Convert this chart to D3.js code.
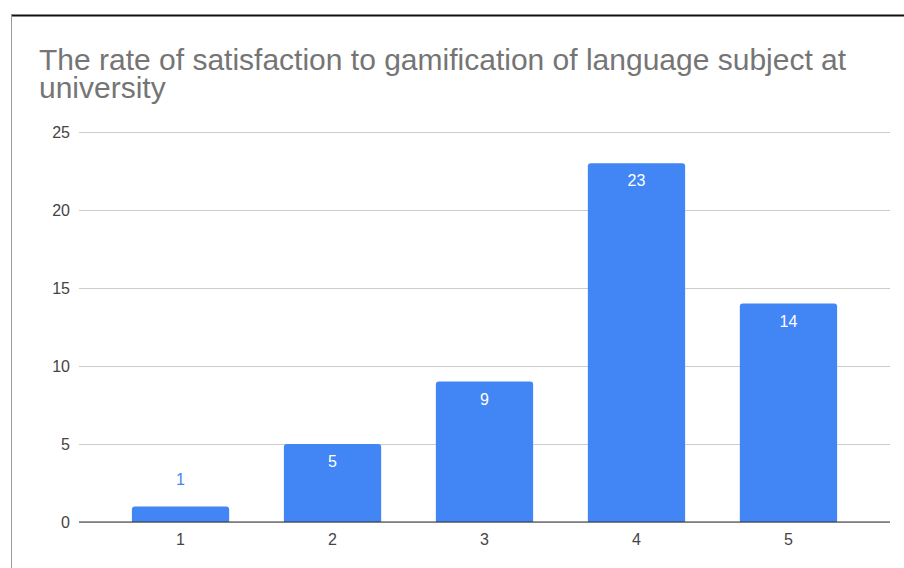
<!DOCTYPE html>
<html>
<head>
<meta charset="utf-8">
<script src="https://cdn.jsdelivr.net/npm/d3@7"></script>
<style>
  html, body { margin: 0; padding: 0; background: #fff; }
  svg { display: block; }
</style>
</head>
<body>
<svg id="chart" width="904" height="568"></svg>
<script>
// Satisfaction rating (1–5) and number of respondents
const categories = ["1", "2", "3", "4", "5"];
const counts = [1, 5, 9, 23, 14];
const yTicks = [0, 5, 10, 15, 20, 25];
const titleLines = ["The rate of satisfaction to gamification of language subject at", "university"];

const svg = d3.select("#chart");
const W = 904, H = 568;
const plot = { left: 79, right: 890, top: 132, bottom: 522 };
const font = "'Liberation Sans', Arial, sans-serif";
const barColor = "#4285f4";

// Frame lines along the top and left edges
svg.append("line").attr("x1", 11).attr("x2", W).attr("y1", 15.5).attr("y2", 15.5)
  .attr("stroke", "#111").attr("stroke-width", 2);
svg.append("line").attr("x1", 11.5).attr("x2", 11.5).attr("y1", 15).attr("y2", H)
  .attr("stroke", "#9a9a9a").attr("stroke-width", 1);

// Title
const title = svg.append("text").attr("font-family", font).attr("font-size", 30)
  .attr("fill", "#757575");
titleLines.forEach((t, i) => {
  title.append("tspan").attr("x", 39).attr("y", 70 + i * 28).text(t);
});

const x = d3.scaleBand().domain(categories).range([plot.left, plot.right])
  .paddingInner(0.36).paddingOuter(0.348);
const y = d3.scaleLinear().domain([0, 25]).range([plot.bottom, plot.top]);

// Horizontal gridlines and y tick labels
const yAxis = d3.axisLeft(y).tickValues(yTicks).tickSize(-(plot.right - plot.left)).tickPadding(12);
const gy = svg.append("g").attr("transform", `translate(${plot.left},0)`).call(yAxis);
gy.select(".domain").remove();
gy.selectAll(".tick line").attr("stroke", "#cccccc").attr("stroke-width", 1);
gy.selectAll(".tick text").attr("font-family", font).attr("font-size", 16)
  .attr("fill", "#444").attr("x", -9);

// Bars with slightly rounded top corners
const r = 3;
svg.append("g").selectAll("path").data(categories).join("path")
  .attr("fill", barColor)
  .attr("d", (c, i) => {
    const x0 = x(c), w = x.bandwidth(), yt = y(counts[i]), yb = y(0);
    const rr = Math.min(r, (yb - yt) / 2);
    return `M${x0},${yb} V${yt + rr} Q${x0},${yt} ${x0 + rr},${yt} H${x0 + w - rr} Q${x0 + w},${yt} ${x0 + w},${yt + rr} V${yb} Z`;
  });

// Baseline axis with category labels
const xAxis = d3.axisBottom(x).tickSize(0).tickPadding(12);
const gx = svg.append("g").attr("transform", `translate(0,${plot.bottom})`).call(xAxis);
gx.select(".domain").attr("stroke", "#333").attr("stroke-width", 1.2)
  .attr("d", `M${plot.left},0H${plot.right}`);
gx.selectAll(".tick text").attr("font-family", font).attr("font-size", 16).attr("fill", "#444");

// Value labels: inside the bar top when it fits, otherwise above it in bar colour
svg.append("g").selectAll("text").data(categories).join("text")
  .attr("font-family", font).attr("font-size", 16).attr("text-anchor", "middle")
  .attr("x", c => x(c) + x.bandwidth() / 2)
  .attr("y", (c, i) => {
    const h = y(0) - y(counts[i]);
    return h > 30 ? y(counts[i]) + 23 : y(counts[i]) - 21;
  })
  .attr("fill", (c, i) => (y(0) - y(counts[i]) > 30 ? "#ffffff" : barColor))
  .text((c, i) => counts[i]);
</script>
</body>
</html>
